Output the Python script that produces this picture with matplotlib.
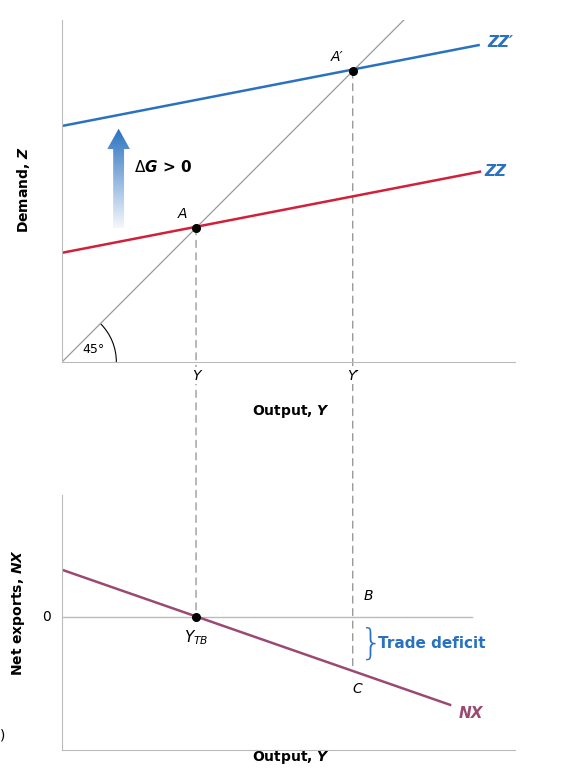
import numpy as np
import matplotlib.pyplot as plt
from matplotlib.patches import Arc, FancyArrow, ConnectionPatch
from matplotlib.colors import LinearSegmentedColormap

# model values (same units on both axes so the 45 degree line is 45 degrees)
x_max = 10.0
zz_icpt, zz_slope, zz_end = 2.41, 0.194, 9.23
zzp_icpt, zzp_end = 5.21, 9.2
y_eq, yp_eq = 2.96, 6.42
nx_icpt, nx_slope, nx_end = 1.04, -0.348, 8.57
diag_end = 7.6

BLUE = '#2a72c0'
RED = '#d0203a'
PURPLE = '#9a4a72'
GRAY = '#9a9a9a'

fig = plt.figure(figsize=(5.71, 7.83), dpi=100)
ax1 = fig.add_axes([0.1086, 0.5377, 0.793, 0.4368])
ax2 = fig.add_axes([0.1086, 0.0421, 0.793, 0.3257])

for ax in (ax1, ax2):
    for s in ('top', 'right'):
        ax.spines[s].set_visible(False)
    ax.set_xticks([]); ax.set_yticks([])
    ax.set_xlim(0, x_max)
    ax.spines['left'].set_color('#bbbbbb')
    ax.spines['bottom'].set_color('#bbbbbb')
    ax.patch.set_visible(False)

# ---- top panel
ax1.plot([0, diag_end], [0, diag_end], color=GRAY, lw=0.9)
xs = np.array([0, zz_end])
ax1.plot(xs, zz_icpt + zz_slope * xs, color=RED, lw=1.8)
xs2 = np.array([0, zzp_end])
ax1.plot(xs2, zzp_icpt + zz_slope * xs2, color=BLUE, lw=1.8)
ax1.plot([y_eq, yp_eq], [y_eq, yp_eq], 'o', color='black', ms=5.5, zorder=5)
ax1.text(y_eq - 0.2, y_eq + 0.15, 'A', style='italic', fontsize=10, ha='right', va='bottom')
ax1.text(yp_eq - 0.2, yp_eq + 0.15, "A\u2032", style='italic', fontsize=10, ha='right', va='bottom')
ax1.text(zz_end + 0.1, zz_icpt + zz_slope * zz_end, 'ZZ', color=BLUE, fontsize=11,
         fontweight='bold', style='italic', va='center')
ax1.text(zzp_end + 0.2, zzp_icpt + zz_slope * zzp_end + 0.05, "ZZ\u2032", color=BLUE,
         fontsize=11, fontweight='bold', style='italic', va='center')
ax1.add_patch(Arc((0, 0), 2.4, 2.4, theta1=0, theta2=45, color='black', lw=0.8))
ax1.text(0.45, 0.2, '45°', fontsize=9)

# gradient arrow for delta G
arrow = FancyArrow(1.25, 2.95, 0, 2.2, width=0.24, head_width=0.5, head_length=0.45,
                   length_includes_head=True, fc='none', ec='none')
ax1.add_patch(arrow)
grad = np.linspace(0, 1, 100).reshape(-1, 1)
cmap = LinearSegmentedColormap.from_list('g', ['#f4f7fc', BLUE])
im = ax1.imshow(grad, extent=[0.9, 1.6, 2.95, 5.15], origin='lower', cmap=cmap,
                aspect='auto', zorder=3)
im.set_clip_path(arrow)
ax1.set_xlim(0, x_max); ax1.set_ylim(0, 7.55)
ax1.text(1.6, 4.3, r'$\Delta\mathbfit{G}$ > 0', fontsize=11, fontweight='bold', va='center')

ax1.text(y_eq, -0.3, 'Y', style='italic', ha='center', va='center', fontsize=10,
         bbox=dict(fc='white', ec='none', pad=1))
ax1.text(yp_eq, -0.3, "Y\u2032", style='italic', ha='center', va='center', fontsize=10,
         bbox=dict(fc='white', ec='none', pad=1))
ax1.text(5.05, -1.1, r'Output, $\mathbfit{Y}$', fontweight='bold', ha='center', va='center', fontsize=10)
ax1.text(-0.85, 3.8, r'Demand, $\mathbfit{Z}$', fontweight='bold', rotation=90,
         ha='center', va='center', fontsize=10)

# ---- bottom panel
ax2.set_ylim(-2.94, 2.69)
ax2.axhline(0, color='#bbbbbb', lw=1, xmax=0.905)
xn = np.array([0, nx_end])
ax2.plot(xn, nx_icpt + nx_slope * xn, color=PURPLE, lw=1.8)
ax2.plot([y_eq], [0], 'o', color='black', ms=5.5, zorder=5)
c_val = nx_icpt + nx_slope * yp_eq
ax2.text(y_eq, -0.45, r'$Y_{TB}$', ha='center', va='center', fontsize=11)
ax2.text(yp_eq + 0.35, 0.45, 'B', style='italic', ha='center', va='center', fontsize=10)
ax2.text(yp_eq + 0.1, c_val - 0.4, 'C', style='italic', ha='center', va='center', fontsize=10)
ax2.text(nx_end + 0.2, nx_icpt + nx_slope * nx_end - 0.2, 'NX', color=PURPLE,
         fontsize=11, fontweight='bold', style='italic', va='center')
ax2.text(yp_eq + 0.15, c_val / 2, '}', color=BLUE, fontsize=26, ha='left', va='center',
         fontweight='light')
ax2.text(yp_eq + 0.55, c_val / 2, 'Trade deficit', color=BLUE, fontsize=11,
         fontweight='bold', va='center')
ax2.text(-0.35, 0, '0', ha='center', va='center', fontsize=10)
ax2.text(5.05, -3.1, r'Output, $\mathbfit{Y}$', fontweight='bold', ha='center', va='center', fontsize=10)
ax2.text(-0.95, 0.1, r'Net exports, $\mathbfit{NX}$', fontweight='bold', rotation=90,
         ha='center', va='center', fontsize=10)
fig.text(0.0, 0.055, ')', fontsize=10)

# dashed connectors between panels
for xv, yv, ybot in ((y_eq, y_eq, 0), (yp_eq, yp_eq, c_val)):
    con = ConnectionPatch(xyA=(xv, yv), coordsA=ax1.transData, xyB=(xv, ybot),
                          coordsB=ax2.transData, color=GRAY, lw=1,
                          linestyle=(0, (5, 4)), zorder=0)
    fig.add_artist(con)

fig.savefig('out.png', dpi=100)
